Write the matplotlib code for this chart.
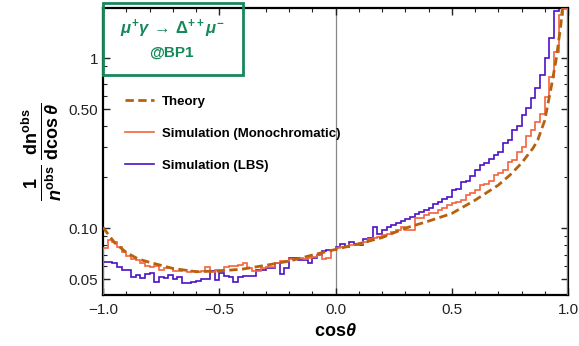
import numpy as np
import matplotlib
matplotlib.use("Agg")
import matplotlib.pyplot as plt
from matplotlib.ticker import FixedLocator, NullFormatter

plt.rcParams['font.family'] = ['Liberation Sans', 'DejaVu Sans']
plt.rcParams['mathtext.fontset'] = 'custom'
plt.rcParams['mathtext.rm'] = 'Liberation Sans:bold'
plt.rcParams['mathtext.bf'] = 'Liberation Sans:bold'
plt.rcParams['mathtext.it'] = 'Liberation Sans:bold:italic'
plt.rcParams['mathtext.sf'] = 'Liberation Sans:bold'

# histogram bins, cos(theta) from -1 to 1 in steps of 0.02
bin_edges = np.linspace(-1, 1, 101)

mono_neg = [0.076, 0.085, 0.083, 0.077, 0.072, 0.069, 0.066, 0.065, 0.062, 0.060,
            0.059, 0.060, 0.057, 0.058, 0.058, 0.056, 0.056, 0.057, 0.055, 0.056,
            0.055, 0.056, 0.059, 0.055, 0.057, 0.0565, 0.059, 0.060, 0.060, 0.061,
            0.062, 0.058, 0.056, 0.056, 0.058, 0.059, 0.059, 0.062, 0.064, 0.064,
            0.066, 0.066, 0.067, 0.066, 0.067, 0.068, 0.070, 0.066, 0.067, 0.074]
mono_pos = [0.0765, 0.077, 0.078, 0.080, 0.080, 0.081, 0.083, 0.086, 0.088, 0.089,
            0.091, 0.092, 0.095, 0.098, 0.101, 0.098, 0.097, 0.114, 0.115, 0.119,
            0.122, 0.123, 0.128, 0.132, 0.137, 0.141, 0.143, 0.146, 0.157, 0.160,
            0.167, 0.179, 0.183, 0.190, 0.205, 0.210, 0.220, 0.246, 0.250, 0.280,
            0.300, 0.350, 0.377, 0.420, 0.470, 0.590, 0.770, 1.09, 1.80, 1.95]

lbs_neg = [0.0635, 0.063, 0.062, 0.0593, 0.0567, 0.0567, 0.0517, 0.053, 0.0511, 0.0538,
           0.0543, 0.0484, 0.0514, 0.0507, 0.053, 0.050, 0.0514, 0.0479, 0.0477, 0.0484,
           0.0489, 0.0503, 0.0503, 0.0562, 0.0495, 0.0543, 0.0522, 0.0514, 0.0484, 0.0514,
           0.0522, 0.0522, 0.0522, 0.0567, 0.0567, 0.058, 0.058, 0.0626, 0.0538, 0.058,
           0.067, 0.067, 0.0647, 0.065, 0.0626, 0.067, 0.0695, 0.0735, 0.074, 0.074]
lbs_pos = [0.078, 0.081, 0.078, 0.083, 0.081, 0.080, 0.086, 0.088, 0.101, 0.093,
           0.097, 0.101, 0.104, 0.107, 0.110, 0.113, 0.116, 0.121, 0.125, 0.128,
           0.132, 0.138, 0.143, 0.149, 0.153, 0.167, 0.170, 0.187, 0.190, 0.202,
           0.220, 0.235, 0.240, 0.254, 0.270, 0.280, 0.315, 0.332, 0.377, 0.400,
           0.46, 0.51, 0.58, 0.67, 0.79, 1.0, 1.31, 1.9, 2.6, 3.5]

theory_x = [-1.0, -0.95, -0.9, -0.85, -0.8, -0.7, -0.6, -0.5, -0.4, -0.3, -0.2, -0.1,
            0.0, 0.1, 0.2, 0.3, 0.4, 0.5, 0.6, 0.7, 0.75, 0.8, 0.85, 0.87, 0.9, 0.93,
            0.95, 0.97, 0.98]
theory_y = [0.101, 0.082, 0.072, 0.066, 0.063, 0.058, 0.0555, 0.056, 0.0575, 0.0605,
            0.064, 0.0695, 0.075, 0.081, 0.088, 0.100, 0.110, 0.122, 0.146, 0.179,
            0.205, 0.241, 0.296, 0.33, 0.43, 0.70, 1.0, 1.6, 2.3]

mono = np.array(mono_neg + mono_pos)
lbs = np.array(lbs_neg + lbs_pos)

c_theory = '#b8600c'
c_mono = '#f4623c'
c_lbs = '#4a12c4'
c_green = '#17885a'

fig = plt.figure(figsize=(5.79, 3.46), dpi=100)
ax = fig.add_axes([0.178, 0.147, 0.803, 0.830])

ax.axvline(0, color='#888888', lw=0.9, zorder=1)
ax.stairs(lbs, bin_edges, color=c_lbs, lw=1.2, zorder=2, label='Simulation (LBS)')
ax.stairs(mono, bin_edges, color=c_mono, lw=1.2, zorder=3, label='Simulation (Monochromatic)')
ax.plot(theory_x, theory_y, color=c_theory, lw=2.0, ls=(0, (3, 1.6)), zorder=4, label='Theory')

ax.set_yscale('log')
ax.set_xlim(-1, 1)
ax.set_ylim(0.0404, 1.97)

ax.set_xticks([-1, -0.5, 0, 0.5, 1])
ax.set_xticklabels(['\u22121.0', '\u22120.5', '0.0', '0.5', '1.0'])
ax.xaxis.set_minor_locator(FixedLocator(np.arange(-1, 1.01, 0.1)))
ax.yaxis.set_major_locator(FixedLocator([0.05, 0.1, 0.5, 1]))
ax.set_yticklabels(['0.05', '0.10', '0.50', '1'])
ax.yaxis.set_minor_locator(FixedLocator([0.06, 0.07, 0.08, 0.09, 0.2, 0.3, 0.4, 0.6, 0.7, 0.8, 0.9]))
ax.yaxis.set_minor_formatter(NullFormatter())
ax.tick_params(which='both', direction='in', top=True, right=True, labelsize=11, colors='#222222')
ax.tick_params(which='major', length=5, width=1.0)
ax.tick_params(which='minor', length=3, width=0.8)
ax.tick_params(axis='x', pad=6)
for s in ax.spines.values():
    s.set_linewidth(1.6)

ax.set_xlabel(r'$\mathrm{cos}\theta$', fontsize=13, labelpad=4)
ax.set_ylabel(r'$\frac{\mathrm{1}}{n^{\mathrm{obs}}}\,\frac{\mathrm{dn^{obs}}}{\mathrm{dcos}\,\theta}$',
              fontsize=18.5, labelpad=3)

# legend in the order Theory / Mono / LBS
h, l = ax.get_legend_handles_labels()
order = [2, 1, 0]
leg = ax.legend([h[i] for i in order], [l[i] for i in order], loc='upper left',
                bbox_to_anchor=(0.036, 0.714), frameon=False, handlelength=2.2,
                handletextpad=0.6, labelspacing=1.5, borderaxespad=0,
                prop={'weight': 'bold', 'size': 9.5})

# green title box
box = plt.Rectangle((0, 0.767), 0.301, 0.25, transform=ax.transAxes, fill=False,
                    edgecolor=c_green, lw=2.0, clip_on=False, zorder=5)
ax.add_patch(box)
ax.text(0.148, 0.928, r'$\mu^{+}\gamma\,\rightarrow\,\Delta^{++}\mu^{-}$',
        transform=ax.transAxes, ha='center', va='center', color=c_green, fontsize=12)
ax.text(0.148, 0.843, '@BP1', transform=ax.transAxes, ha='center', va='center',
        color=c_green, fontsize=11, fontweight='bold')

fig.savefig('out.png', dpi=100)
